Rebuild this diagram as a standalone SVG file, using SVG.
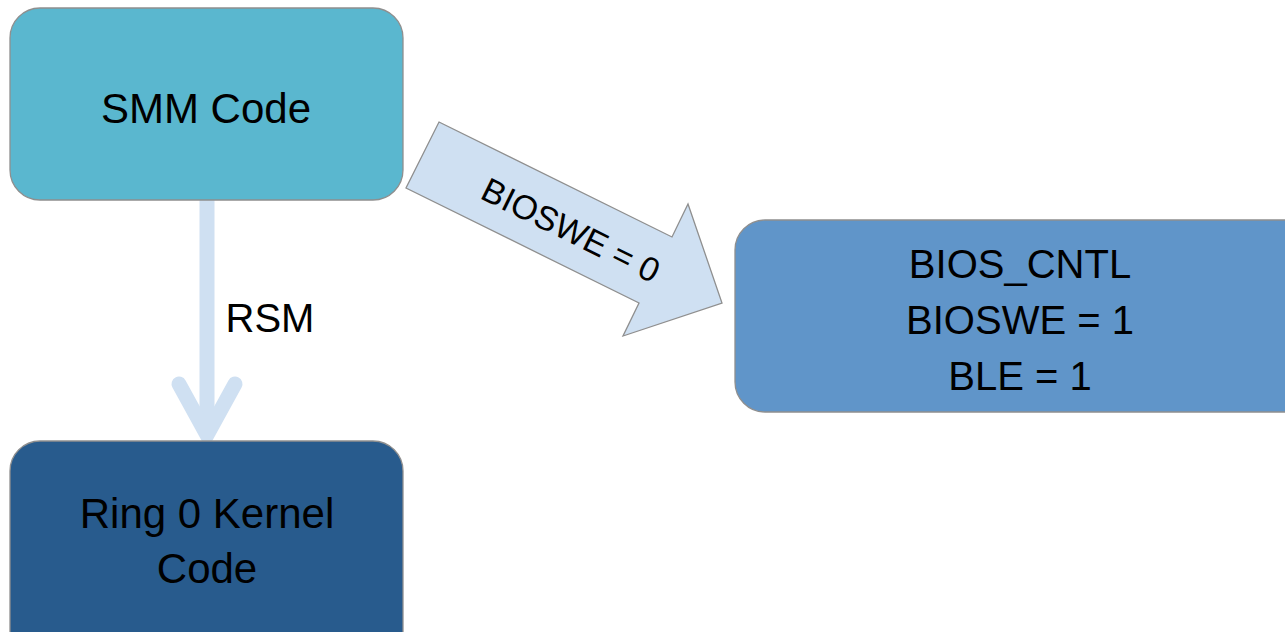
<svg xmlns="http://www.w3.org/2000/svg" width="1285" height="632" viewBox="0 0 1285 632">
<style>
.box{stroke:#8f8f8f;stroke-width:1.3}
.t{font-family:"Liberation Sans",Arial,sans-serif;fill:#000;text-anchor:middle}
</style>
<rect width="1285" height="632" fill="#fff"/>
<g id="connectors">
<g id="rsm-arrow">
<line x1="207" y1="200" x2="207" y2="434" stroke="#cfe0f2" stroke-width="15"/>
<polyline points="179,384 207,435 235,384" fill="none" stroke="#cfe0f2" stroke-width="15" stroke-linecap="round" stroke-linejoin="miter"/>
<text class="t" x="270" y="332" font-size="40">RSM</text>
</g>
<g id="bioswe-arrow">
<polygon points="439,122 672,237 688,204 722,303 623,336 639,303 406,188" fill="#cfe0f2" stroke="#8f8f8f" stroke-width="1.3"/>
<text class="t" font-size="34" transform="translate(571,230) rotate(26.3)" y="12">BIOSWE = 0</text>
</g>
</g>
<g id="smm">
<rect class="box" x="10" y="8" width="393" height="192" rx="30" fill="#5ab7cf"/>
<text class="t" x="206" y="123" font-size="42">SMM Code</text>
</g>
<g id="ring0">
<rect class="box" x="10" y="441" width="393" height="220" rx="30" fill="#285b8d"/>
<text class="t" x="207" y="528" font-size="42">Ring 0 Kernel</text>
<text class="t" x="207" y="583" font-size="42">Code</text>
</g>
<g id="bioscntl">
<rect class="box" x="735" y="220" width="600" height="192" rx="30" fill="#6095c9"/>
<text class="t" x="1020" y="278" font-size="40">BIOS_CNTL</text>
<text class="t" x="1020" y="334" font-size="40">BIOSWE = 1</text>
<text class="t" x="1020" y="390" font-size="40">BLE = 1</text>
</g>
</svg>
